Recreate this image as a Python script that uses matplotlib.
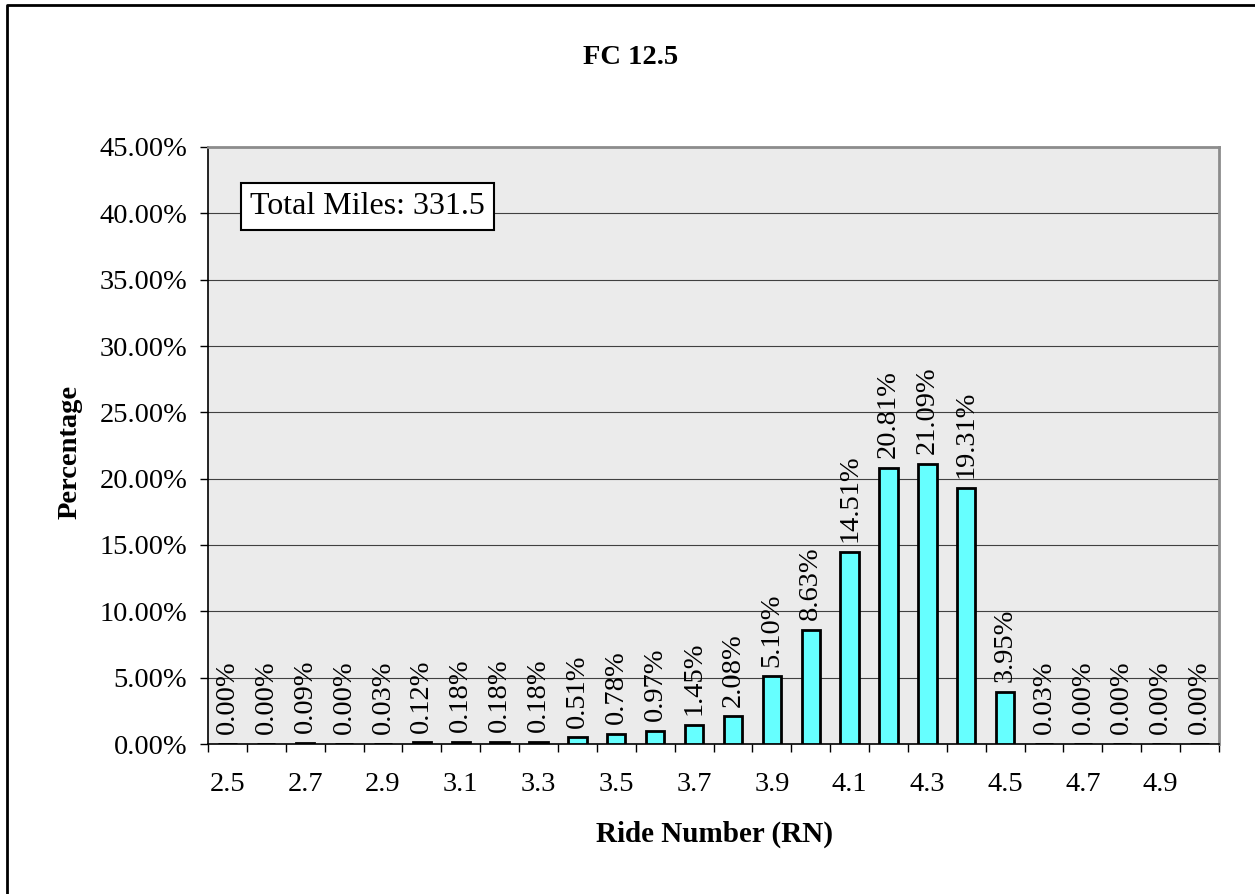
import numpy as np  # for numerical operations
import matplotlib
matplotlib.use('Agg')
import matplotlib.pyplot as plt  # for visualization
from matplotlib.lines import Line2D

# Chart data
ride_numbers = ['2.5', '2.6', '2.7', '2.8', '2.9', '3.0', '3.1', '3.2', '3.3', '3.4',
                '3.5', '3.6', '3.7', '3.8', '3.9', '4.0', '4.1', '4.2', '4.3', '4.4',
                '4.5', '4.6', '4.7', '4.8', '4.9', '5.0']
percentages = [0.00, 0.00, 0.09, 0.00, 0.03, 0.12, 0.18, 0.18, 0.18, 0.51,
               0.78, 0.97, 1.45, 2.08, 5.10, 8.63, 14.51, 20.81, 21.09, 19.31,
               3.95, 0.03, 0.00, 0.00, 0.00, 0.00]
y_ticks = [0, 5, 10, 15, 20, 25, 30, 35, 40, 45]
chart_title = 'FC 12.5'
total_miles = 331.5

plt.rcParams['font.family'] = ['Liberation Serif', 'DejaVu Serif']

W, H = 1255, 894
fig = plt.figure(figsize=(W / 100, H / 100), dpi=100)
ax = fig.add_axes([208 / W, 1 - 744 / H, (1219 - 208) / W, (744 - 147) / H])
ax.set_facecolor('#EBEBEB')

x = np.arange(len(ride_numbers))
bars = ax.bar(x, percentages, width=0.47, color='#66FFFF', edgecolor='black',
              linewidth=2, zorder=3)

# value labels above each bar
for xi, val in zip(x, percentages):
    ax.annotate('{0:.2f}%'.format(val), (xi, val), xytext=(0, 7), textcoords='offset points',
                rotation=90, ha='center', va='bottom', fontsize=20.5, zorder=4)

# y axis
ax.set_ylim(0, 45)
ax.set_yticks(y_ticks)
ax.set_yticklabels(['{0:.2f}%'.format(v) for v in y_ticks])
ax.yaxis.grid(True, color='#404040', linewidth=0.8, zorder=1)
ax.tick_params(axis='y', length=6, width=1, labelsize=20.5, pad=9, direction='out')

# x axis: tick marks on category boundaries, labels in every other slot
ax.set_xlim(-0.5, len(ride_numbers) - 0.5)
ax.set_xticks(np.arange(len(ride_numbers) + 1) - 0.5)
ax.set_xticklabels([])
ax.set_xticks(x[::2], minor=True)
ax.set_xticklabels(ride_numbers[::2], minor=True)
ax.tick_params(axis='x', which='major', length=6, width=1, direction='out')
ax.tick_params(axis='x', which='minor', length=0, labelsize=20.5, pad=20)

for side in ['left', 'bottom']:
    ax.spines[side].set_color('black')
    ax.spines[side].set_linewidth(1.2)
for side in ['top', 'right']:
    ax.spines[side].set_color('#8C8C8C')
    ax.spines[side].set_linewidth(2)

# total miles box
ax.text(0.158, 0.901, 'Total Miles: {0}'.format(total_miles), transform=ax.transAxes,
        ha='center', va='center', fontsize=23, zorder=5,
        bbox=dict(boxstyle='square,pad=0.28', facecolor='white', edgecolor='black', linewidth=1.5))

# titles
fig.text(631 / W, 1 - 57 / H, chart_title, ha='center', va='center', fontsize=20.5, fontweight='bold')
fig.text(70 / W, 1 - 452 / H, 'Percentage', ha='center', va='center', rotation=90,
         fontsize=20.5, fontweight='bold')
fig.text(714 / W, 1 - 834 / H, 'Ride Number (RN)', ha='center', va='center',
         fontsize=21, fontweight='bold')

# outer frame (left and top edges visible)
fig.add_artist(Line2D([7 / W, 7 / W, 1], [0, 1 - 5 / H, 1 - 5 / H], transform=fig.transFigure,
                      color='black', linewidth=2))

fig.savefig('out.png', dpi=100)
